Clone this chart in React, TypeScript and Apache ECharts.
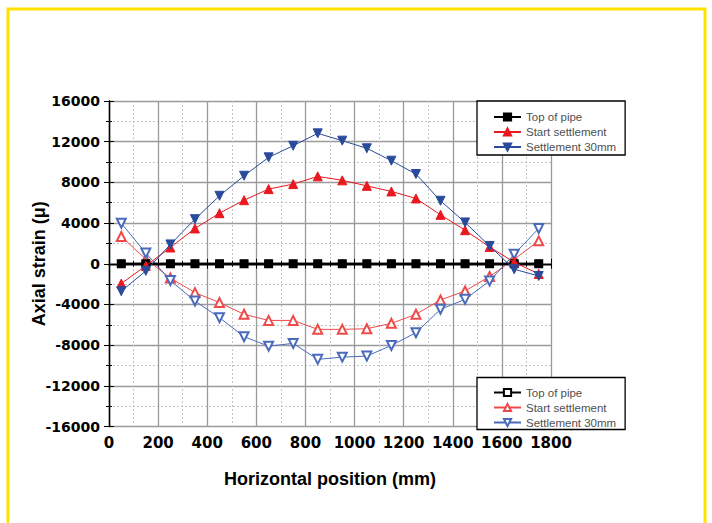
import React, { useEffect, useRef } from "react";
import * as echarts from "echarts";

// Horizontal positions (mm)
const positions = [50, 150, 250, 350, 450, 550, 650, 750, 850, 950, 1050, 1150, 1250, 1350, 1450, 1550, 1650, 1750];

// Filled markers (upper group)
const topPipeA = [0, 0, 0, 0, 0, 0, 0, 0, 0, 0, 0, 0, 0, 0, 0, 0, 0, 0];
const startSettlementA = [-1950, -200, 1600, 3470, 4970, 6250, 7340, 7830, 8590, 8200, 7660, 7110, 6420, 4810, 3300, 1650, 150, -1000];
const settlement30A = [-2700, -700, 1900, 4380, 6680, 8650, 10460, 11600, 12820, 12100, 11350, 10130, 8820, 6190, 4060, 1750, -540, -1200];

// Hollow markers (lower group)
const topPipeB = [0, 0, 0, 0, 0, 0, 0, 0, 0, 0, 0, 0, 0, 0, 0, 0, 0, 0];
const startSettlementB = [2680, 450, -1400, -2840, -3820, -4970, -5570, -5570, -6450, -6450, -6390, -5860, -4970, -3560, -2680, -1260, 440, 2250];
const settlement30B = [3990, 1050, -1650, -3660, -5300, -7170, -8100, -7830, -9400, -9180, -9080, -8030, -6780, -4480, -3500, -1690, 935, 3470];

const seriesNames = ["Top of pipe", "Start settlement", "Settlement 30mm"];
const xTitle = "Horizontal position (mm)";
const yTitle = "Axial strain (\u03bc)";

const RED = "#e8191f";
const BLUE = "#2a4a9c";
const RED_L = "#ef4a4a";
const BLUE_L = "#4a6bbc";

const toPairs = (ys: number[]) => positions.map((x, i) => [x, ys[i]]);

export default function App() {
  const ref = useRef<HTMLDivElement>(null);

  useEffect(() => {
    if (!ref.current) return;
    const chart = echarts.init(ref.current, null, { renderer: "svg" });

    const tickLabel = {
      fontFamily: "DejaVu Sans",
      fontWeight: "bold" as const,
      color: "#000",
      formatter: (v: number) => String(v),
    };
    const axisLine = { show: true, lineStyle: { color: "#000", width: 1.3 } };
    const axisTick = { show: true, inside: true, length: 5, lineStyle: { color: "#000", width: 1 } };
    const minorTick = { show: true, splitNumber: 2, length: 3, lineStyle: { color: "#000", width: 1 } };
    const splitLine = { show: true, lineStyle: { color: "#9a9a9a", width: 1.3 } };
    const minorSplitLine = { show: true, lineStyle: { color: "#c4c4c4", width: 1, type: [2, 2] as any } };

    const legendBase = {
      orient: "vertical" as const,
      left: 477,
      itemGap: 3,
      itemWidth: 27,
      itemHeight: 9,
      selectedMode: false,
      backgroundColor: "#fff",
      borderColor: "#000",
      borderWidth: 1.3,
      borderRadius: 0,
      textStyle: { fontFamily: "Liberation Sans", fontSize: 11.5, color: "#505050", lineHeight: 10 },
      formatter: (n: string) => n.trim(),
    };

    const mkSeries = (
      name: string,
      ys: number[],
      color: string,
      symbol: string,
      rotate: number,
      size: number,
      width: number,
      z: number
    ) => ({
      name,
      type: "line",
      data: toPairs(ys),
      symbol,
      symbolSize: size,
      symbolRotate: rotate,
      showSymbol: true,
      z,
      lineStyle: { color, width },
      itemStyle: { color, borderColor: color, borderWidth: 1 },
    });

    chart.setOption({
      animation: false,
      backgroundColor: "#fff",
      grid: { left: 109, top: 101, width: 442, height: 325.5, containLabel: false },
      graphic: [
        {
          type: "rect",
          shape: { x: 8, y: 9, width: 697, height: 600 },
          style: { fill: "none", stroke: "#ffe100", lineWidth: 3 },
          z: 100,
        },
      ],
      legend: [
        {
          ...legendBase,
          top: 101,
          padding: [10, 9, 2, 16],
          data: seriesNames,
        },
        {
          ...legendBase,
          top: 377.5,
          padding: [9, 9, 1, 16],
          data: seriesNames.map((n) => n + " "),
        },
      ],
      xAxis: [
        {
          type: "value",
          position: "bottom",
          min: 0,
          max: 1800,
          interval: 200,
          axisLine,
          axisTick,
          minorTick,
          splitLine,
          minorSplitLine,
          axisLabel: { ...tickLabel, fontSize: 15, margin: 9 },
          name: xTitle,
          nameLocation: "middle",
          nameGap: 43,
          nameMoveOverlap: false,
          nameTextStyle: { fontFamily: "Liberation Sans", fontWeight: "bold", fontSize: 18, color: "#000" },
        },
        {
          type: "value",
          position: "top",
          min: 0,
          max: 1800,
          interval: 200,
          axisLine,
          axisTick,
          minorTick,
          splitLine: { show: false },
          axisLabel: { show: false },
        },
      ],
      yAxis: [
        {
          type: "value",
          position: "left",
          min: -16000,
          max: 16000,
          interval: 4000,
          axisLine,
          axisTick,
          minorTick,
          splitLine,
          minorSplitLine,
          axisLabel: { ...tickLabel, fontSize: 14, margin: 9 },
          name: yTitle,
          nameLocation: "middle",
          nameGap: 61,
          nameRotate: 90,
          nameMoveOverlap: false,
          nameTextStyle: { fontFamily: "Liberation Sans", fontWeight: "bold", fontSize: 18, color: "#000" },
        },
        {
          type: "value",
          position: "right",
          min: -16000,
          max: 16000,
          interval: 4000,
          axisLine,
          axisTick,
          minorTick,
          splitLine: { show: false },
          axisLabel: { show: false },
        },
      ],
      series: [
        mkSeries(seriesNames[1] + " ", startSettlementB, RED_L, "emptyTriangle", 0, 9, 1, 2),
        mkSeries(seriesNames[2] + " ", settlement30B, BLUE_L, "emptyTriangle", 180, 9, 1, 3),
        mkSeries(seriesNames[0] + " ", topPipeB, "#000", "emptyRect", 0, 7, 2, 4),
        mkSeries(seriesNames[0], topPipeA, "#000", "rect", 0, 7, 2, 5),
        mkSeries(seriesNames[1], startSettlementA, RED, "triangle", 0, 9, 1, 6),
        mkSeries(seriesNames[2], settlement30A, BLUE, "triangle", 180, 9, 1, 7),
      ],
    });

    return () => chart.dispose();
  }, []);

  return (
    <div
      ref={ref}
      style={{ position: "absolute", left: 0, top: 0, width: 712, height: 523, background: "#fff" }}
    />
  );
}
